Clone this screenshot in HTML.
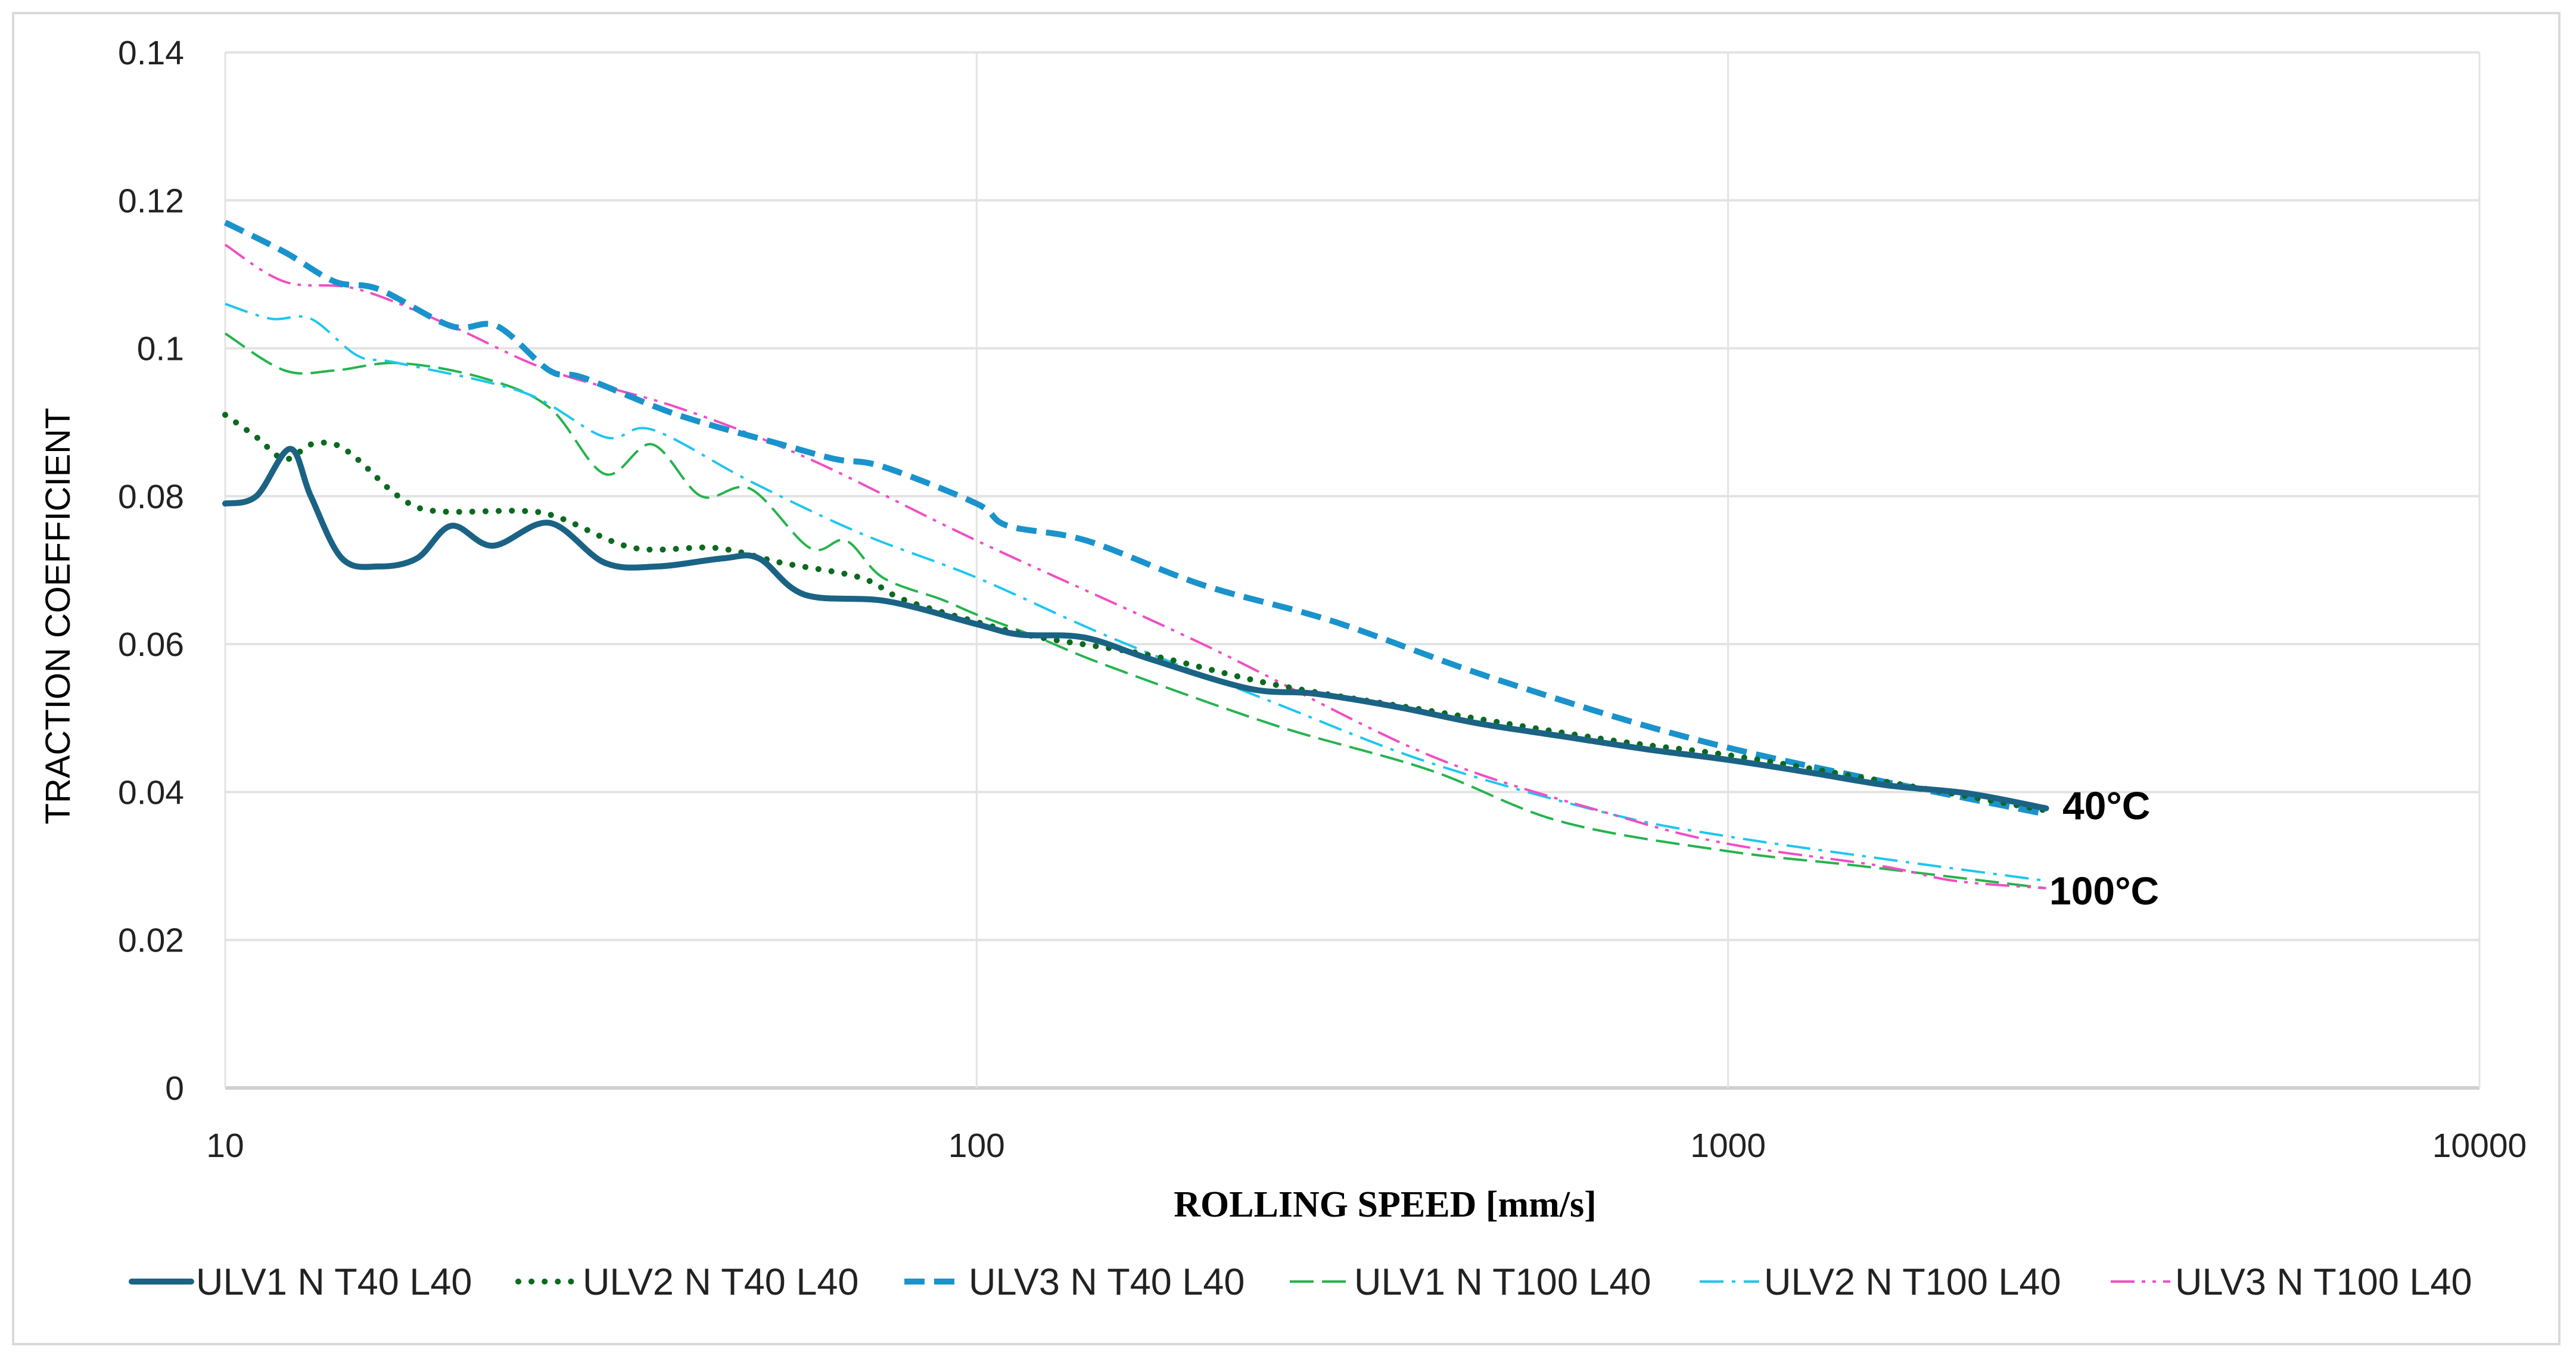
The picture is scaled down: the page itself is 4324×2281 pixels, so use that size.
<!DOCTYPE html>
<html><head><meta charset="utf-8"><style>
html,body{margin:0;padding:0;background:#fff;}
svg{display:block;}
text{font-family:"Liberation Sans",sans-serif;}
</style></head><body>
<svg id="chart" width="4324" height="2281" viewBox="0 0 4324 2281" xmlns="http://www.w3.org/2000/svg">
<rect x="22" y="22" width="4274" height="2234" fill="#fff" stroke="#d9d9d9" stroke-width="4"/>
<g id="grid"></g>
<g id="series"></g>
<g id="axes"></g>
<text x="3462" y="1375" font-size="66" font-weight="bold">40°C</text>
<text x="3440" y="1518" font-size="66" font-weight="bold">100°C</text>
<text x="2325" y="2042" font-size="62" font-weight="bold" text-anchor="middle" style="font-family:'Liberation Serif',serif">ROLLING SPEED [mm/s]</text>
<text transform="translate(117,1034) rotate(-90)" font-size="58" text-anchor="middle">TRACTION COEFFICIENT</text>
<g id="legend"></g>
</svg>
<script>
const yTicks = [0, 0.02, 0.04, 0.06, 0.08, 0.1, 0.12, 0.14];
const yTickLabels = ["0","0.02","0.04","0.06","0.08","0.1","0.12","0.14"];
const xTicks = [10, 100, 1000, 10000];
const xTickLabels = ["10","100","1000","10000"];
const seriesNames = ["ULV1 N T40 L40","ULV2 N T40 L40","ULV3 N T40 L40","ULV1 N T100 L40","ULV2 N T100 L40","ULV3 N T100 L40"];
const s1x = [10,11,12.2,13,14.3,16,18,20,22.7,27,32,37.6,46,51.3,59,76,100,114,139,170,230,282,363,464,596,777,993,1274,1632,2093,2650];
const s1y = [0.079,0.080,0.0864,0.08,0.0716,0.0705,0.0716,0.076,0.0733,0.0764,0.071,0.0705,0.0716,0.0716,0.0667,0.0658,0.0627,0.0613,0.0609,0.058,0.054,0.0533,0.0515,0.0493,0.0476,0.0458,0.0444,0.0427,0.0409,0.0398,0.0378];
const s2x = [10,11,12,13,14,15,17,19,25,28,35,45,55,70,80,100,120,170,250,400,700,1000,1500,2650];
const s2y = [0.091,0.088,0.085,0.087,0.087,0.085,0.080,0.078,0.078,0.077,0.073,0.073,0.071,0.069,0.066,0.063,0.061,0.0585,0.0545,0.051,0.047,0.045,0.042,0.0375];
const s3x = [10,12,14,16,20,23,27,30,40,55,65,75,100,110,140,200,300,500,1000,2650];
const s3y = [0.117,0.113,0.109,0.108,0.103,0.103,0.097,0.096,0.091,0.087,0.085,0.084,0.079,0.076,0.074,0.068,0.063,0.055,0.046,0.037];
const s4x = [10,12,14,17,22,27,32,37,43,50,60,67,75,90,100,120,150,250,400,600,1000,1500,2650];
const s4y = [0.102,0.097,0.097,0.098,0.096,0.092,0.083,0.087,0.080,0.081,0.073,0.074,0.069,0.066,0.064,0.061,0.057,0.049,0.043,0.036,0.032,0.030,0.027];
const s5x = [10,11.5,13,15,17,25,32,37,50,70,100,150,250,400,700,1000,1600,2650];
const s5y = [0.106,0.104,0.104,0.099,0.098,0.094,0.088,0.089,0.082,0.075,0.069,0.061,0.052,0.044,0.037,0.034,0.031,0.028];
const s6x = [10,12,15,20,27,40,60,100,200,400,700,1000,1600,2000,2650];
const s6y = [0.114,0.109,0.108,0.103,0.097,0.092,0.085,0.074,0.060,0.045,0.037,0.033,0.030,0.028,0.027];

const NS="http://www.w3.org/2000/svg";
const X0=378,X1=4162,Y0=1826,Y1=88;
const xs=v=>X0+(Math.log10(v)-1)/3*(X1-X0);
const ys=v=>Y0-v/0.14*(Y0-Y1);
function mk(tag,attrs,parent){const e=document.createElementNS(NS,tag);for(const k in attrs)e.setAttribute(k,attrs[k]);parent.appendChild(e);return e;}
const grid=document.getElementById('grid'),axes=document.getElementById('axes'),ser=document.getElementById('series'),leg=document.getElementById('legend');
yTicks.forEach((t,i)=>{
  const l=mk('line',{x1:X0,x2:X1,y1:ys(t),y2:ys(t),stroke:i===0?'#d0d0d0':'#e3e3e3','stroke-width':i===0?6:4},grid);
  
  
  const tx=mk('text',{x:309,y:ys(t)+20,'font-size':57,'text-anchor':'end',fill:'#222'},axes);
  tx.textContent=yTickLabels[i];
  
  
});
xTicks.forEach((t,i)=>{
  const l=mk('line',{x1:xs(t),x2:xs(t),y1:Y1,y2:Y0,stroke:'#e3e3e3','stroke-width':3},grid);
  
  
  const tx=mk('text',{x:xs(t),y:1942,'font-size':57,'text-anchor':'middle',fill:'#222'},axes);
  tx.textContent=xTickLabels[i];
  
  
});
const styles=[
  {c:'#1b6384',w:10,d:'',cap:'round'},
  {c:'#0b6a1e',w:10,d:'0.1 22',cap:'round'},
  {c:'#1a93cc',w:10,d:'34 16',cap:'butt'},
  {c:'#25b34d',w:4,d:'40 14',cap:'butt'},
  {c:'#1ec6ee',w:4,d:'40 14 6 14',cap:'butt'},
  {c:'#f04ec4',w:4,d:'40 12 6 12 6 12',cap:'butt'}
];
const data=[[s1x,s1y],[s2x,s2y],[s3x,s3y],[s4x,s4y],[s5x,s5y],[s6x,s6y]];
function smooth(px,py){
  let d='M'+px[0]+','+py[0];
  for(let i=0;i<px.length-1;i++){
    const x0=px[Math.max(i-1,0)],y0=py[Math.max(i-1,0)],x1=px[i],y1=py[i],x2=px[i+1],y2=py[i+1],x3=px[Math.min(i+2,px.length-1)],y3=py[Math.min(i+2,px.length-1)];
    d+=' C'+(x1+(x2-x0)/6)+','+(y1+(y2-y0)/6)+' '+(x2-(x3-x1)/6)+','+(y2-(y3-y1)/6)+' '+x2+','+y2;
  }
  return d;
}
const order=[3,4,5,2,1,0];
order.forEach(k=>{
  const [vx,vy]=data[k],st=styles[k];
  const p=mk('path',{d:smooth(vx.map(xs),vy.map(ys)),fill:'none',stroke:st.c,'stroke-width':st.w,'stroke-dasharray':st.d,'stroke-linecap':st.cap,'stroke-linejoin':'round'},ser);
  
  
});
const legX=[221,870,1518,2165,2853,3543];
seriesNames.forEach((n,k)=>{
  const st=styles[k];
  const g=mk('g',{},leg);
  
  
  mk('line',{x1:legX[k],x2:legX[k]+100,y1:2151,y2:2151,stroke:st.c,'stroke-width':st.w,'stroke-dasharray':st.d,'stroke-linecap':st.cap},g);
  const t=mk('text',{x:legX[k]+108,y:2173,'font-size':63,fill:'#222'},g);
  t.textContent=n;
});
</script>
</body></html>
